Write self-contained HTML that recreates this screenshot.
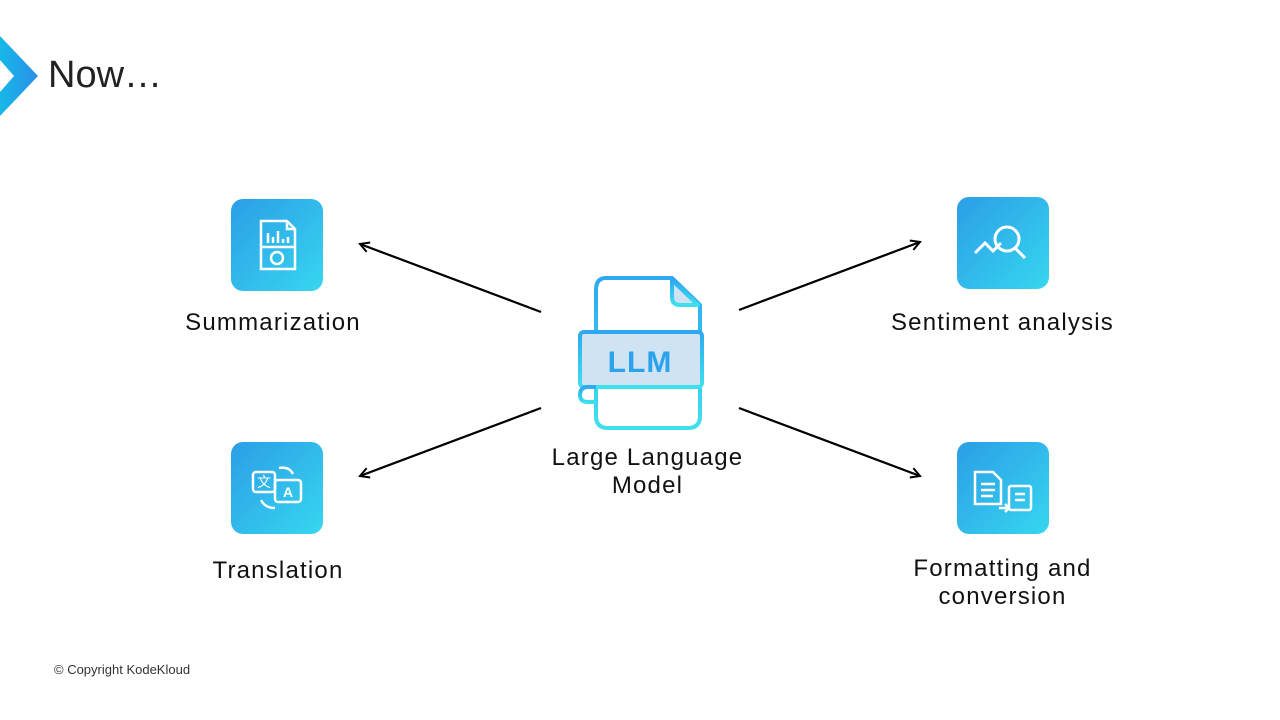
<!DOCTYPE html>
<html><head><meta charset="utf-8"><style>
html,body{margin:0;padding:0;background:#fff;width:1280px;height:720px;overflow:hidden;position:relative;font-family:"Liberation Sans","DejaVu Sans",sans-serif;}
.lbl{position:absolute;font-size:24px;color:#111;text-align:center;line-height:28px;white-space:nowrap;letter-spacing:1.2px;}
.tile{position:absolute;width:92px;height:92px;border-radius:12px;background:linear-gradient(135deg,#2b9ee6,#37d6f0);}
</style></head><body>
<svg width="1280" height="720" style="position:absolute;left:0;top:0">
<defs>
<linearGradient id="cg" x1="0" y1="0" x2="1" y2="0"><stop offset="0" stop-color="#17b8e8"/><stop offset="1" stop-color="#2a8fe8"/></linearGradient>
<linearGradient id="fg" x1="0" y1="0" x2="0" y2="1"><stop offset="0" stop-color="#2ea8f0"/><stop offset="1" stop-color="#3ee0ee"/></linearGradient>
<marker id="ar" markerWidth="12" markerHeight="12" refX="10" refY="6" orient="auto" markerUnits="userSpaceOnUse"><path d="M1,1 L10,6 L1,11" fill="none" stroke="#000" stroke-width="2"/></marker>
</defs>
<polygon points="0,36 38,76 0,116 0,92 14,76 0,60" fill="url(#cg)"/>
<g stroke="#000" stroke-width="2.2" fill="none">
<line x1="541" y1="312" x2="360" y2="244" marker-end="url(#ar)"/>
<line x1="541" y1="408" x2="360" y2="476" marker-end="url(#ar)"/>
<line x1="739" y1="310" x2="920" y2="242" marker-end="url(#ar)"/>
<line x1="739" y1="408" x2="920" y2="476" marker-end="url(#ar)"/>
</g>
<g fill="none" stroke="url(#fg)" stroke-width="4" stroke-linejoin="round">
<path d="M606,278 L672,278 L700,305 L700,416 Q700,428 688,428 L608,428 Q596,428 596,416 L596,290 Q596,278 606,278 Z" fill="#fff"/>
<path d="M672,280 L672,297 Q672,305 680,305 L698,305 Z" fill="#cfe3f3"/>
<rect x="580" y="332" width="122" height="55" rx="4" fill="#cfe3f3"/>
<path d="M596,387 L588,387 Q580,387 580,395 Q580,402 588,402 L596,402"/>
</g>
<text x="640" y="372" text-anchor="middle" font-family="Liberation Sans,sans-serif" font-weight="bold" font-size="30" fill="#2aa2ec" letter-spacing="1">LLM</text>
</svg>
<div style="position:absolute;left:48px;top:54px;font-size:38px;color:#222;">Now…</div>

<div class="tile" style="left:231px;top:199px"><svg width="92" height="92" fill="none" stroke="#fff" stroke-width="2.5"><path d="M30,22 L56,22 L64,30 L64,70 L30,70 Z M56,22 L56,30 L64,30"/><line x1="30" y1="48" x2="64" y2="48"/><path d="M37,44 V34 M42,44 V38 M47,44 V32 M52,44 V40 M57,44 V38"/><circle cx="46" cy="59" r="6"/></svg></div>
<div class="tile" style="left:231px;top:442px"><svg width="92" height="92" fill="none" stroke="#fff" stroke-width="2.5"><rect x="22" y="30" width="22" height="20" rx="3"/><rect x="44" y="38" width="26" height="22" rx="3"/><text x="33" y="45" font-size="14" fill="#fff" stroke="none" text-anchor="middle" font-family="Liberation Sans">文</text><text x="57" y="55" font-size="14" fill="#fff" stroke="none" text-anchor="middle" font-family="Liberation Sans" font-weight="bold">A</text><path d="M48,26 Q58,24 62,32 M30,58 Q34,66 44,66"/></svg></div>
<div class="tile" style="left:957px;top:197px"><svg width="92" height="92" fill="none" stroke="#fff" stroke-width="3"><circle cx="50" cy="42" r="12"/><line x1="58" y1="51" x2="68" y2="61"/><path d="M18,56 L28,46 L36,54 L44,46"/></svg></div>
<div class="tile" style="left:957px;top:442px"><svg width="92" height="92" fill="none" stroke="#fff" stroke-width="2.5"><path d="M18,30 L36,30 L44,38 L44,62 L18,62 Z"/><path d="M24,42 H38 M24,48 H38 M24,54 H36"/><rect x="52" y="44" width="22" height="24" rx="2"/><path d="M58,52 H68 M58,58 H68"/><path d="M42,66 H52 M48,62 L52,66 L48,70"/></svg></div>

<div class="lbl" style="left:160px;top:309px;width:226px">Summarization</div>
<div class="lbl" style="left:165px;top:557px;width:226px">Translation</div>
<div class="lbl" style="left:870px;top:309px;width:265px">Sentiment analysis</div>
<div class="lbl" style="left:870px;top:555px;width:265px">Formatting and<br>conversion</div>
<div class="lbl" style="left:515px;top:444px;width:265px">Large Language<br>Model</div>
<div style="position:absolute;left:54px;top:662px;font-size:13px;color:#333;">© Copyright KodeKloud</div>
</body></html>
